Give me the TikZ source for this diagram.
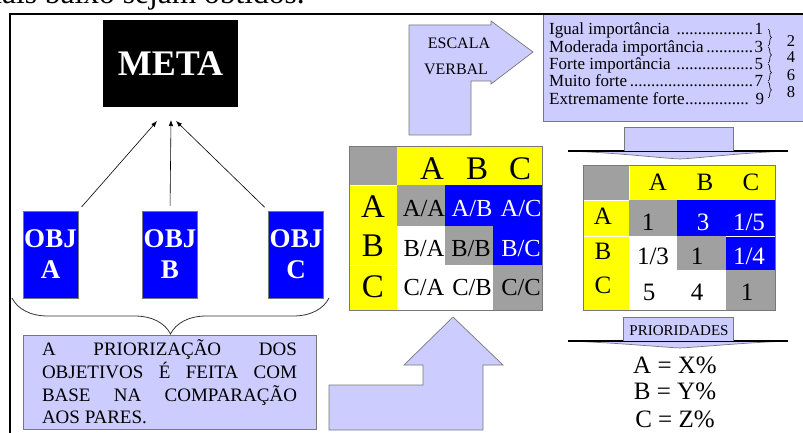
\documentclass[tikz,border=0pt]{standalone}
\usepackage{fontspec}
\setmainfont{Liberation Serif}
\usetikzlibrary{decorations.pathreplacing,arrows.meta}
\definecolor{lav}{RGB}{204,204,255}
\definecolor{cellgray}{RGB}{160,160,160}
\definecolor{cellyel}{RGB}{255,255,0}
\definecolor{cellblue}{RGB}{0,0,255}
\definecolor{edgegray}{RGB}{120,120,120}
\newcommand\fsz[2]{\fontsize{#1pt}{#2pt}\selectfont}
\newcommand\myleaders{\leaders\hbox{.}\hfill}
\begin{document}
\begin{tikzpicture}[x=1pt,y=-1pt,
  objbox/.style={fill=cellblue,draw=edgegray,line width=0.5pt,minimum width=55pt,minimum height=87pt,inner sep=0pt,text=white,font=\bfseries\fsz{27}{31},align=center},
  lavshape/.style={draw=edgegray,fill=lav,line width=0.7pt},
  bigtxt/.style={anchor=base,inner sep=0pt,font=\fsz{33}{38}},
  celltxt/.style={anchor=base,inner sep=0pt,font=\fsz{24.5}{27}},
  numtxt/.style={anchor=base,inner sep=0pt,font=\fsz{25}{29}},
  scaletxt/.style={anchor=base west,inner sep=0pt,font=\fsz{17}{17}},
  pairnum/.style={anchor=base,inner sep=0pt,font=\fsz{16.5}{17}},
  conn/.style={line width=0.6pt,-{Latex[length=6pt,width=4.5pt]},shorten <=5pt},
  sepline/.style={white,line width=0.7pt}]
\useasboundingbox (0,0) rectangle (803,433);
\clip (0,0) rectangle (803,433);

% cropped heading line
\node[anchor=base east,inner sep=0pt,font=\fsz{31.5}{36}] (cut) at (305,4) {mais baixo sejam obtidos.};

% META
\node[fill=black,minimum width=135pt,minimum height=87pt,inner sep=0pt,text=white,font=\bfseries\fsz{36}{40}] (meta) at (170.5,63.5) {META};

% objectives
\node[objbox] (objA) at (50.5,254.5) {OBJ\\A};
\node[objbox] (objB) at (170,254.5) {OBJ\\B};
\node[objbox] (objC) at (296,254.5) {OBJ\\C};
\coordinate (tA) at (157,121);
\coordinate (tB) at (171,120);
\coordinate (tC) at (176,121);
\draw[conn] (objA.north east) -- (tA);
\draw[conn] (objB.north) -- (tB);
\draw[conn] (objC.north west) -- (tC);

% brace under objectives
\draw[decorate,decoration={brace,amplitude=36pt},line width=0.8pt,draw=black!80] (329,298) -- (12,298);

% note
\node[draw=edgegray,fill=lav,line width=0.7pt,minimum width=293pt,minimum height=94pt,inner sep=0pt,align=left,font=\fsz{19}{22.7}] (note) at (169.5,382)
 {\makebox[255pt][s]{A PRIORIZAÇÃO DOS}\\\makebox[255pt][s]{OBJETIVOS É FEITA COM}\\\makebox[255pt][s]{BASE NA COMPARAÇÃO}\\\makebox[255pt][l]{AOS PARES.}};

% up stair arrow
\draw[lavshape] (329,430) -- (329,385) -- (423,385) -- (423,365) -- (404,365) -- (453,317) -- (503,365) -- (483,365) -- (483,430) -- cycle;

% ESCALA VERBAL arrow
\draw[lavshape] (409,25) -- (491,25) -- (491,21) -- (533,52) -- (491,84) -- (491,81) -- (471,81) -- (471,135) -- (409,135) -- cycle;
\node[anchor=base,inner sep=0pt,font=\fsz{16}{18}] (esc) at (459,49) {ESCALA};
\node[anchor=base,inner sep=0pt,font=\fsz{16}{18}] (verb) at (456,75) {VERBAL};

% scale box
\node[draw=edgegray,fill=lav,line width=0.7pt,anchor=north west,minimum width=280pt,minimum height=107pt,inner sep=0pt] (scale) at (543,14) {};
\node[scaletxt] (l1) at (549,35) {\makebox[214pt][l]{Igual importância \myleaders1}};
\node[scaletxt] (l2) at (549,52.5) {\makebox[214pt][l]{Moderada importância\myleaders3}};
\node[scaletxt] (l3) at (549,70) {\makebox[214pt][l]{Forte importância \myleaders5}};
\node[scaletxt] (l4) at (549,87) {\makebox[214pt][l]{Muito forte\myleaders7}};
\node[scaletxt] (l5) at (549,104.5) {\makebox[215pt][l]{Extremamente forte\myleaders\ 9}};
\draw[decorate,decoration={brace,amplitude=3.5pt},line width=0.6pt] (768,29) -- (768,46);
\draw[decorate,decoration={brace,amplitude=3.5pt},line width=0.6pt] (768,47) -- (768,63);
\draw[decorate,decoration={brace,amplitude=3.5pt},line width=0.6pt] (768,64) -- (768,81);
\draw[decorate,decoration={brace,amplitude=3.5pt},line width=0.6pt] (768,82) -- (768,98);
\node[pairnum] (n2) at (791,46.7) {2};
\node[pairnum] (n4) at (791,62.7) {4};
\node[pairnum] (n6) at (791,80.7) {6};
\node[pairnum] (n8) at (791,97.3) {8};

% frame
\draw[line width=2.6pt] (10,440) -- (10,14) -- (810,14);

% down arrow (scale -> numeric matrix)
\filldraw[lavshape] (568,151) -- (788,151) .. controls (740,153) and (700,158) .. (680,159) .. controls (660,158) and (620,153) .. (568,151) -- cycle;
\draw[black,line width=1.3pt] (568,151) -- (788,151);
\filldraw[lavshape] (624,151) -- (624,127) -- (733,127) -- (733,151);

% matrix 1
\fill[cellgray] (349,146) rectangle (397,185);
\fill[cellyel] (397,146) rectangle (542,185);
\fill[cellyel] (349,185) rectangle (397,310);
\fill[cellgray] (397,185) rectangle (445,226);
\fill[cellblue] (445,185) rectangle (542,226);
\fill[white] (397,226) rectangle (445,310);
\fill[cellgray] (445,226) rectangle (493,265);
\fill[cellblue] (493,226) rectangle (542,265);
\fill[white] (445,265) rectangle (493,310);
\fill[cellgray] (493,265) rectangle (542,310);
\draw[sepline] (349,185) -- (397,185);
\draw[sepline] (349,265) -- (397,265);
\draw[edgegray,line width=0.7pt] (349,146) rectangle (542,310);
\node[bigtxt] (h1A) at (432,179) {A};
\node[bigtxt] (h1B) at (477,179) {B};
\node[bigtxt] (h1C) at (520,179) {C};
\node[bigtxt] (r1A) at (373,217) {A};
\node[bigtxt] (r1B) at (373,256) {B};
\node[bigtxt] (r1C) at (373,297) {C};
\node[celltxt] (cAA) at (424,216) {A/A};
\node[celltxt,text=white] (cAB) at (472,216) {A/B};
\node[celltxt,text=white] (cAC) at (521,216) {A/C};
\node[celltxt] (cBA) at (424,256) {B/A};
\node[celltxt] (cBB) at (471,256) {B/B};
\node[celltxt,text=white] (cBC) at (521,256) {B/C};
\node[celltxt] (cCA) at (424,295) {C/A};
\node[celltxt] (cCB) at (472,295) {C/B};
\node[celltxt] (cCC) at (521,295) {C/C};

% matrix 2
\fill[cellgray] (583,165) rectangle (629,200);
\fill[cellyel] (629,165) rectangle (775,200);
\fill[cellyel] (583,200) rectangle (629,310);
\fill[cellgray] (629,200) rectangle (677,236);
\fill[cellblue] (677,200) rectangle (775,236);
\fill[white] (629,236) rectangle (677,310);
\fill[cellgray] (677,236) rectangle (726,270);
\fill[cellblue] (726,236) rectangle (775,270);
\fill[white] (677,270) rectangle (726,310);
\fill[cellgray] (726,270) rectangle (775,310);
\draw[sepline] (583,200) -- (629,200);
\draw[sepline] (583,236) -- (629,236);
\draw[sepline] (726,236) -- (775,236);
\draw[sepline] (629,165) -- (629,200);
\draw[edgegray,line width=0.7pt] (583,165) rectangle (775,310);
\node[numtxt] (h2A) at (658,190) {A};
\node[numtxt] (h2B) at (705,190) {B};
\node[numtxt] (h2C) at (751,190) {C};
\node[numtxt] (r2A) at (603,224) {A};
\node[numtxt] (r2B) at (603,259) {B};
\node[numtxt] (r2C) at (603,293) {C};
\node[numtxt] (vAA) at (648,230) {1};
\node[numtxt,text=white] (vAB) at (703,230) {3};
\node[numtxt,text=white] (vAC) at (749,230) {1/5};
\node[numtxt] (vBA) at (653,264) {1/3};
\node[numtxt] (vBB) at (697,264) {1};
\node[numtxt,text=white] (vBC) at (749,264) {1/4};
\node[numtxt] (vCA) at (649,300) {5};
\node[numtxt] (vCB) at (697,300) {4};
\node[numtxt] (vCC) at (747,300) {1};

% priorities arrow
\filldraw[lavshape] (568,341) -- (788,341) .. controls (740,343) and (700,347) .. (680,348) .. controls (660,347) and (620,343) .. (568,341) -- cycle;
\draw[black,line width=1.3pt] (568,341) -- (788,341);
\filldraw[lavshape] (623,341) -- (623,317) -- (733,317) -- (733,341);
\node[anchor=base,inner sep=0pt,font=\fsz{15}{17}] (prio) at (679,335) {PRIORIDADES};

% results
\node[numtxt] (resA) at (675,373) {A = X\%};
\node[numtxt] (resB) at (675,399) {B = Y\%};
\node[numtxt] (resC) at (675,427) {C = Z\%};
\end{tikzpicture}
\end{document}
